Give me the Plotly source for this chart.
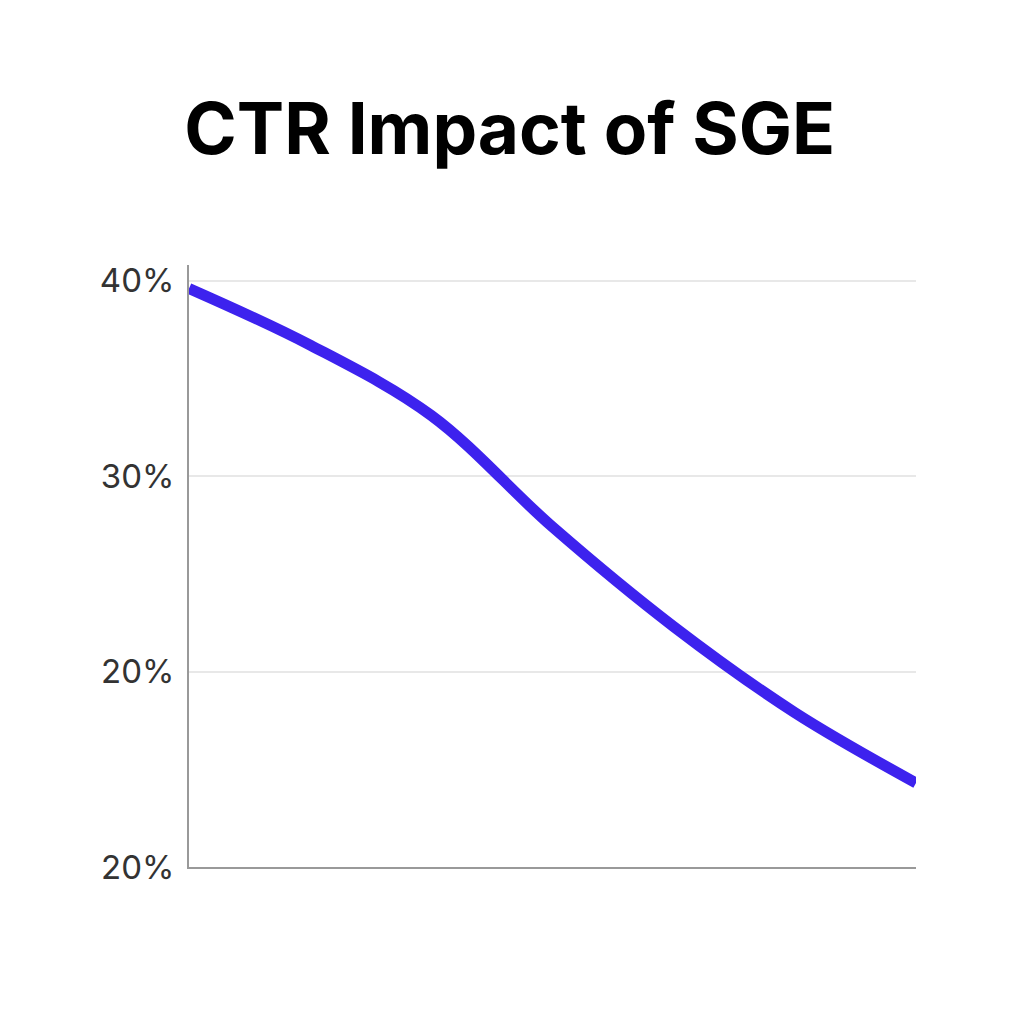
"""CTR impact line chart."""

import plotly.graph_objects as go

steps = [0, 1, 2, 3, 4, 5, 6]
ctr = [39.6, 36.7, 33.1, 27.4, 22.3, 17.9, 14.3]

tick_vals = [10, 20, 30, 40]
tick_text = ["20%", "20%", "30%", "40%"]

fig = go.Figure(go.Scatter(
    x=steps,
    y=ctr,
    mode='lines',
    line=dict(color='#3d22ee', width=11, shape='spline', smoothing=1.0),
    hoverinfo='skip'
))

fig.update_layout(
    width=1024,
    height=1024,
    paper_bgcolor='white',
    plot_bgcolor='white',
    margin=dict(l=181, r=116, t=257, b=165),
    showlegend=False,
    title=dict(
        text="<b>CTR Impact of SGE</b>",
        x=0.49, xanchor='center', y=0.882, yanchor='middle',
        font=dict(family="Inter, Noto Sans, sans-serif", size=71, color='#000000')
    ),
    font=dict(family="Inter, Noto Sans, sans-serif"),
)

fig.update_xaxes(
    range=[0, 6],
    showgrid=False,
    showticklabels=False,
    zeroline=False,
    showline=True,
    linecolor='#999999',
    linewidth=2,
)

fig.update_yaxes(
    range=[10, 40.8],
    tickvals=tick_vals,
    ticktext=tick_text,
    tickfont=dict(size=33, color='#333333'),
    ticks='',
    ticklabelstandoff=6,
    showgrid=True,
    gridcolor='#e8e8e8',
    gridwidth=1.5,
    zeroline=False,
    showline=True,
    linecolor='#999999',
    linewidth=2,
)

fig.write_html("out.html")
